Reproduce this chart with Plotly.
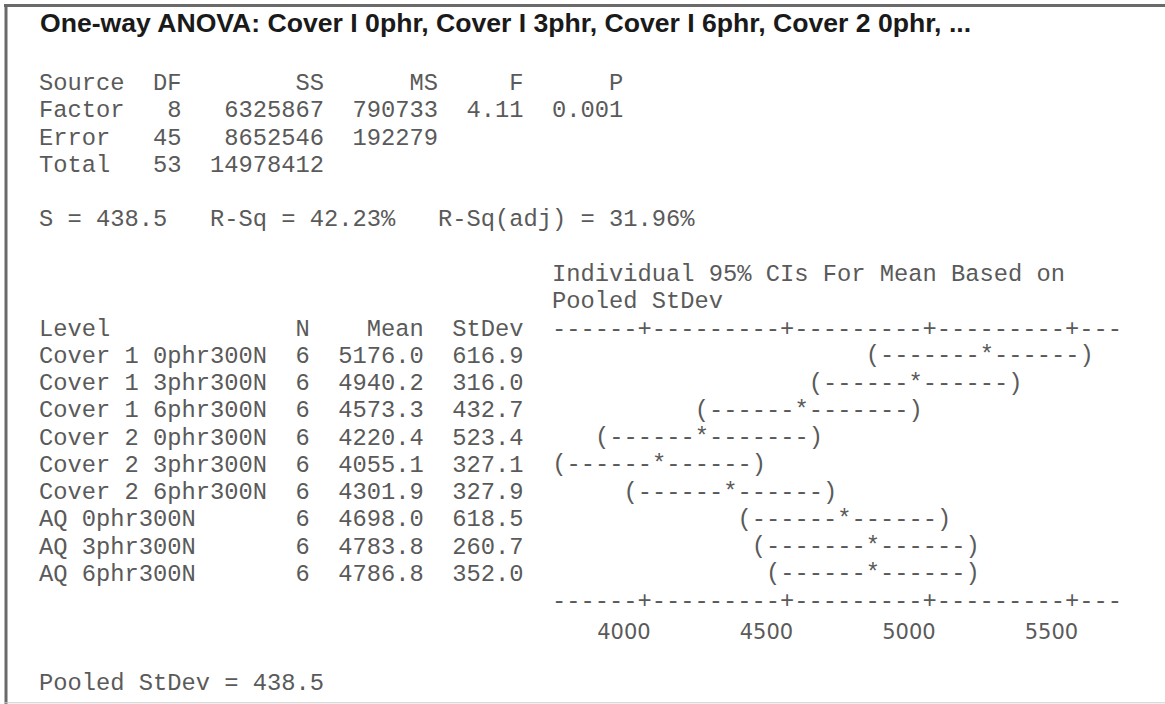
import plotly.graph_objects as go

# ---------------- data ----------------
title_text = "One-way ANOVA: Cover I 0phr, Cover I 3phr, Cover I 6phr, Cover 2 0phr, ..."

sources = ["Factor", "Error", "Total"]
dfs = [8, 45, 53]
ss = [6325867, 8652546, 14978412]
ms = [790733, 192279]
f_stat = 4.11
p_val = 0.001
s_val = 438.5
r_sq = 42.23
r_sq_adj = 31.96

levels = ["Cover 1 0phr300N", "Cover 1 3phr300N", "Cover 1 6phr300N",
          "Cover 2 0phr300N", "Cover 2 3phr300N", "Cover 2 6phr300N",
          "AQ 0phr300N", "AQ 3phr300N", "AQ 6phr300N"]
n_obs = [6, 6, 6, 6, 6, 6, 6, 6, 6]
means = [5176.0, 4940.2, 4573.3, 4220.4, 4055.1, 4301.9, 4698.0, 4783.8, 4786.8]
stdevs = [616.9, 316.0, 432.7, 523.4, 327.1, 327.9, 618.5, 260.7, 352.0]
pooled_sd = 438.5
t_crit = 2.014          # t(0.975, 45)
tick_vals = [4000, 4500, 5000, 5500]

# ---------------- text-grid layout ----------------
W, H = 1165, 704
CH_W = 14.25            # px per monospace character
X0 = 39.3               # px of column 0
LINE_H = 27.28          # px per text line
Y0 = 83.5               # px of middle of line 0
MONO = "Liberation Mono, Courier New, monospace"
MONO_SIZE = 23.75
TXT_COL = "#5a5a5a"

AX_COL0 = 36            # first column of the CI axis
AX_LEN = 40
UNITS_PER_CH = (tick_vals[1] - tick_vals[0]) / 10
ORIGIN_COL = 42         # column where the first tick sits


def col_of(v):
    return int(round(ORIGIN_COL + (v - tick_vals[0]) / UNITS_PER_CH))


def val_of_px(p):
    return tick_vals[0] + ((p - X0) / CH_W - (ORIGIN_COL + 0.5)) * UNITS_PER_CH


def val_of_colcenter(c):
    return tick_vals[0] + (c - ORIGIN_COL) * UNITS_PER_CH


x_range = [val_of_px(0), val_of_px(W)]
y_range = [(H - Y0) / LINE_H, -Y0 / LINE_H]

annotations = []


def add_line(line, col, text):
    annotations.append(dict(
        xref="paper", yref="y", x=(X0 + col * CH_W) / W, y=line,
        xanchor="left", yanchor="middle", showarrow=False,
        text=text.replace(" ", "\u00a0"), borderpad=0, borderwidth=0,
        font=dict(family=MONO, size=MONO_SIZE, color=TXT_COL)))


# ANOVA table
add_line(0, 0, f"{'Source':<6}  {'DF':>2}  {'SS':>8}  {'MS':>6}  {'F':>4}  {'P':>5}")
add_line(1, 0, f"{sources[0]:<6}  {dfs[0]:>2}  {ss[0]:>8}  {ms[0]:>6}  {f_stat:>4.2f}  {p_val:>5.3f}")
add_line(2, 0, f"{sources[1]:<6}  {dfs[1]:>2}  {ss[1]:>8}  {ms[1]:>6}")
add_line(3, 0, f"{sources[2]:<6}  {dfs[2]:>2}  {ss[2]:>8}")
add_line(5, 0, f"S = {s_val:.1f}   R-Sq = {r_sq:.2f}%   R-Sq(adj) = {r_sq_adj:.2f}%")
add_line(7, AX_COL0, "Individual 95% CIs For Mean Based on")
add_line(8, AX_COL0, "Pooled StDev")
add_line(9, 0, f"{'Level':<16}  {'N':>1}  {'Mean':>6}  {'StDev':>5}")

tick_cols = [col_of(t) for t in tick_vals]
axis_str = "".join("+" if c in tick_cols else "-" for c in range(AX_COL0, AX_COL0 + AX_LEN))
add_line(9, AX_COL0, axis_str)

first_row = 10
for i, (lv, n, m, sd) in enumerate(zip(levels, n_obs, means, stdevs)):
    add_line(first_row + i, 0, f"{lv:<16}  {n:>1}  {m:>6.1f}  {sd:>5.1f}")

last_row = first_row + len(levels)
add_line(last_row, AX_COL0, axis_str)
add_line(last_row + 3, 0, f"Pooled StDev = {pooled_sd:.1f}")

# title
annotations.append(dict(
    xref="paper", yref="paper", x=39 / W, y=1 - 23 / H, xanchor="left", yanchor="middle",
    showarrow=False, text="<b>" + title_text + "</b>", borderpad=0,
    font=dict(family="Liberation Sans, Arial, sans-serif", size=26.6, color="#1a1a1a")))

# ---------------- CI marks (Minitab character style) ----------------
ci_x, ci_y, ci_txt = [], [], []
for i, (n, m) in enumerate(zip(n_obs, means)):
    half = t_crit * pooled_sd / n ** 0.5
    lo_c, mid_c, hi_c = col_of(m - half), col_of(m), col_of(m + half)
    s = "(" + "-" * (mid_c - lo_c - 1) + "*" + "-" * (hi_c - mid_c - 1) + ")"
    ci_txt.append(s)
    ci_x.append(val_of_colcenter((lo_c + hi_c) / 2))
    ci_y.append(first_row + i)

fig = go.Figure()
fig.add_trace(go.Scatter(
    x=ci_x, y=ci_y, text=ci_txt, mode="text", textposition="middle center",
    textfont=dict(family=MONO, size=MONO_SIZE, color=TXT_COL),
    hoverinfo="skip", showlegend=False))

axis_px_y = 616.5
fig.update_layout(
    width=W, height=H, margin=dict(l=0, r=0, t=0, b=0),
    paper_bgcolor="white", plot_bgcolor="white",
    showlegend=False, annotations=annotations,
    xaxis=dict(range=x_range, domain=[0, 1], anchor="free", position=(H - axis_px_y) / H,
               tickvals=tick_vals, ticktext=[str(t) for t in tick_vals],
               ticklabelshift=-21, ticks="", showline=False, showgrid=False, zeroline=False,
               tickfont=dict(family="DejaVu Sans, Verdana, sans-serif", size=21, color="#5a5a5a"),
               fixedrange=True),
    yaxis=dict(range=y_range, domain=[0, 1], visible=False, fixedrange=True),
    shapes=[
        dict(type="line", xref="paper", yref="paper", x0=4 / W, x1=1, y0=1 - 5.5 / H, y1=1 - 5.5 / H,
             line=dict(color="#6a6a6a", width=3)),
        dict(type="line", xref="paper", yref="paper", x0=6 / W, x1=6 / W, y0=0, y1=1 - 4 / H,
             line=dict(color="#6a6a6a", width=3)),
        dict(type="line", xref="paper", yref="paper", x0=4 / W, x1=1, y0=1.2 / H, y1=1.2 / H,
             line=dict(color="#cccccc", width=1)),
    ],
)

fig.write_html("out.html", config={"displayModeBar": False},
               post_script="document.body.style.margin='0px';document.body.style.overflow='hidden';")
